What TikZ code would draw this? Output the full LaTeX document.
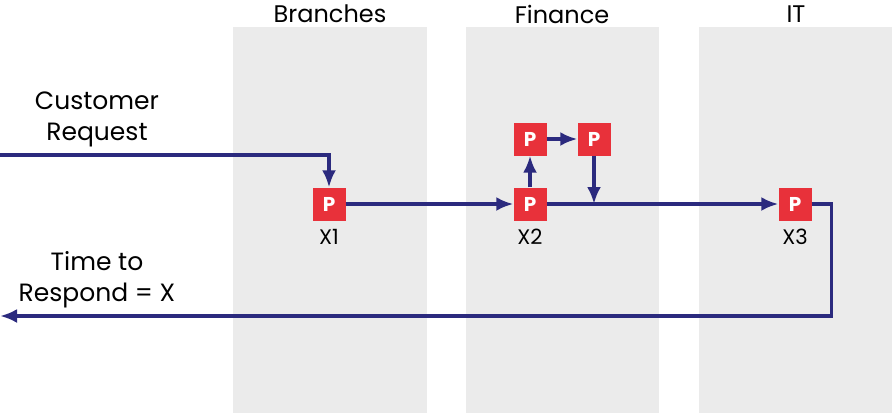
\documentclass[tikz,border=0pt]{standalone}
\usepackage{fontspec}
\setmainfont{Poppins}
\usepackage{tikz}
\usetikzlibrary{arrows.meta,positioning}
\definecolor{GrisCarril}{RGB}{235,235,235}
\definecolor{AzulFlujo}{RGB}{43,42,126}
\definecolor{RojoProceso}{RGB}{232,49,58}

\begin{document}
\begin{tikzpicture}[x=1pt,y=-1pt,
    proc/.style={fill=RojoProceso,minimum size=33pt,inner sep=0pt,
      text=white,font=\fontsize{20}{20}\selectfont\bfseries},
    flow/.style={draw=AzulFlujo,line width=3.4pt,line join=miter,
      -{Latex[length=17pt,width=14pt]}},
    lane/.style={fill=GrisCarril},
    title/.style={font=\fontsize{24}{31}\selectfont},
    tag/.style={font=\fontsize{21}{21}\selectfont,inner sep=0pt}]
  \useasboundingbox (0,0) rectangle (892,413);
  % lanes
  \fill[lane] (233,27) rectangle (427,413);
  \fill[lane] (466,27) rectangle (659,413);
  \fill[lane] (699,27) rectangle (892,413);
  \node[title] (branches) at (330,14) {Branches};
  \node[title] (finance) at (562,14) {Finance};
  \node[title] (it) at (796,14) {IT};
  % processes
  \node[proc] (p1) at (329,204) {P};
  \node[proc] (p2) at (530,204) {P};
  \node[proc] (p2a) at (530,139) {P};
  \node[proc] (p2b) at (594,139) {P};
  \node[proc] (p3) at (795,204) {P};
  \node[tag,below=8pt of p1] (x1) {X1};
  \node[tag,below=8pt of p2] (x2) {X2};
  \node[tag,below=8pt of p3] (x3) {X3};
  \node[title,align=center,font=\fontsize{25}{31}\selectfont] (request) at (97,119) {Customer\\Request};
  \node[title,align=center,font=\fontsize{25}{31}\selectfont] (respond) at (97,280) {Time to\\Respond = X};
  \coordinate (reqstart) at (0,155);
  \coordinate (respend) at (0,316);
  \coordinate (join) at (p2b |- p2);
  % flows
  \draw[flow] (reqstart) -| (p1.north);
  \draw[flow] (p1) -- (p2);
  \draw[flow] (p2) -- (p2a);
  \draw[flow] (p2a) -- (p2b);
  \draw[flow] (p2b) -- (join);
  \draw[flow] (p2) -- (p3);
  \draw[flow] (p3.east) -- ++(20,0) |- (respend);
\end{tikzpicture}
\end{document}
